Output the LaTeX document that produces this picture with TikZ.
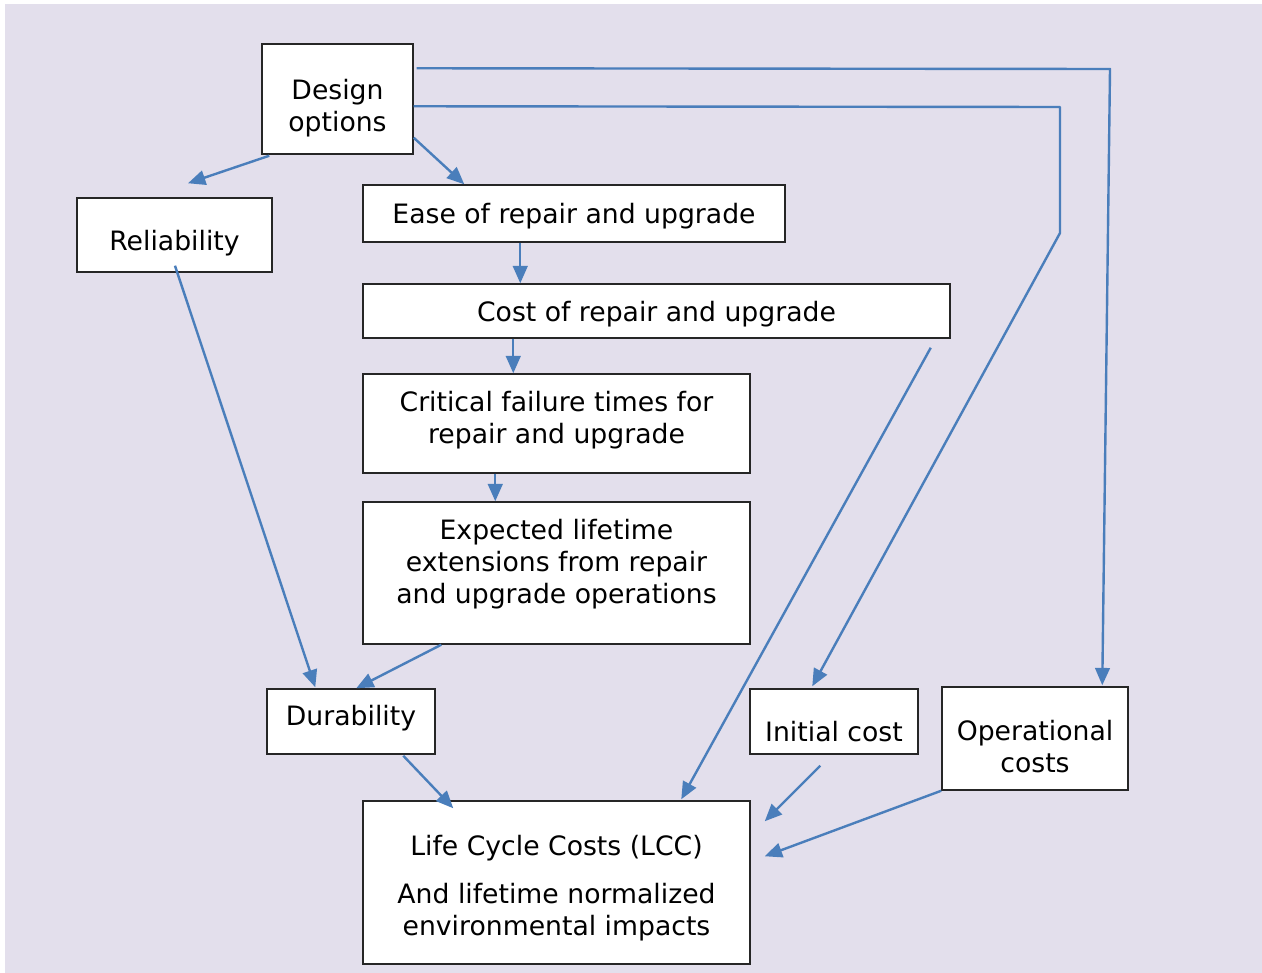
\documentclass[tikz,border=0pt]{standalone}
\usepackage{fontspec}
\setmainfont{DejaVu Sans}
\usetikzlibrary{arrows.meta,calc}
\newcommand{\boxtext}[2]{\raisebox{#1}[\height][\depth]{\begin{tabular}{@{}c@{}}#2\end{tabular}}}
\begin{document}
\begin{tikzpicture}[x=0.75pt,y=-0.75pt,
  box/.style={draw=boxColor,line width=1.1pt,fill=white,inner sep=0pt,
    align=center,font=\fontsize{20}{24}\selectfont},
  link/.style={draw=linkColor,line width=1.8pt,line join=round,
    -{Triangle[length=13pt,width=11pt]}}]
\definecolor{backColor}{RGB}{227,223,236}
\definecolor{boxColor}{RGB}{38,38,38}
\definecolor{linkColor}{RGB}{74,126,187}
\path[use as bounding box,fill=white] (0,0) rectangle (1262,973);
\path[fill=backColor] (5,4) rectangle (1262,973);

% boxes
\node[box,minimum width=113.25pt,minimum height=82.5pt] (design) at (337.5,99)
  {\boxtext{-7.5pt}{Design\\options}};
\node[box,minimum width=146.25pt,minimum height=55.5pt] (rel) at (174.5,235)
  {\boxtext{-7pt}{Reliability}};
\node[box,minimum width=316.5pt,minimum height=42.75pt] (ease) at (574,213.5)
  {\boxtext{-2.5pt}{Ease of repair and upgrade}};
\node[box,minimum width=440.25pt,minimum height=40.5pt] (cost) at (656.5,311)
  {\boxtext{-3pt}{Cost of repair and upgrade}};
\node[box,minimum width=290.25pt,minimum height=74.25pt] (crit) at (556.5,423.5)
  {\boxtext{2pt}{Critical failure times for\\repair and upgrade}};
\node[box,minimum width=290.25pt,minimum height=106.5pt] (expl) at (556.5,573)
  {\boxtext{5.75pt}{Expected lifetime\\extensions from repair\\and upgrade operations}};
\node[box,minimum width=126pt,minimum height=48.75pt] (dur) at (351,721.5)
  {\boxtext{2pt}{Durability}};
\node[box,minimum width=126pt,minimum height=48.75pt] (init) at (834,721.5)
  {\boxtext{-10pt}{Initial cost}};
\node[box,minimum width=139.5pt,minimum height=77.25pt] (oper) at (1035,738.5)
  {\boxtext{-8.5pt}{Operational\\costs}};
\node[box,minimum width=290.25pt,minimum height=122.25pt] (lcc) at (556.5,882.5)
  {\boxtext{-5pt}{Life Cycle Costs (LCC)\\[12pt]And lifetime normalized\\environmental impacts}};

% bends and loose ends
\coordinate (relTop) at ($(rel.north)+(13.5,-14)$);
\coordinate (costOut) at ($(cost.south east)+(-20,9)$);
\coordinate (initBendA) at (1060,107);
\coordinate (initBendB) at (1060,233);
\coordinate (operBend) at (1110,69);
\coordinate (initOut) at ($(init.south west)+(71,11)$);
\coordinate (lccInA) at ($(lcc.north east)+(14,21)$);
\coordinate (lccInB) at ($(lcc.north east)+(14,56)$);

% connectors
\draw[link] ($(design.south west)+(8,1)$) -- (relTop);
\draw[link] ($(design.south east)+(0,-17)$) -- ($(ease.north west)+(102,0)$);
\draw[link] ($(ease.south west)+(158,0)$) -- ($(cost.north west)+(158,0)$);
\draw[link] ($(cost.south west)+(151,0)$) -- ($(crit.north west)+(151,0)$);
\draw[link] ($(crit.south west)+(133,0)$) -- ($(expl.north west)+(133,0)$);
\draw[link] ($(rel.south)+(0.5,-7)$) -- ($(dur.north west)+(49,-1)$);
\draw[link] ($(expl.south west)+(79,0)$) -- ($(dur.north west)+(90,0)$);
\draw[link] ($(dur.south west)+(137,1)$) -- ($(lcc.north west)+(91,8)$);
\draw[link] (costOut) -- ($(lcc.north west)+(319,-1)$);
\draw[link] ($(design.north east)+(0,63)$) -- (initBendA) -- (initBendB)
  -- ($(init.north west)+(63,-2)$);
\draw[link] ($(design.north east)+(3,25)$) -- (operBend)
  -- ($(oper.north west)+(161,-1)$);
\draw[link] (initOut) -- (lccInA);
\draw[link] (oper.south west) -- (lccInB);
\end{tikzpicture}
\end{document}
